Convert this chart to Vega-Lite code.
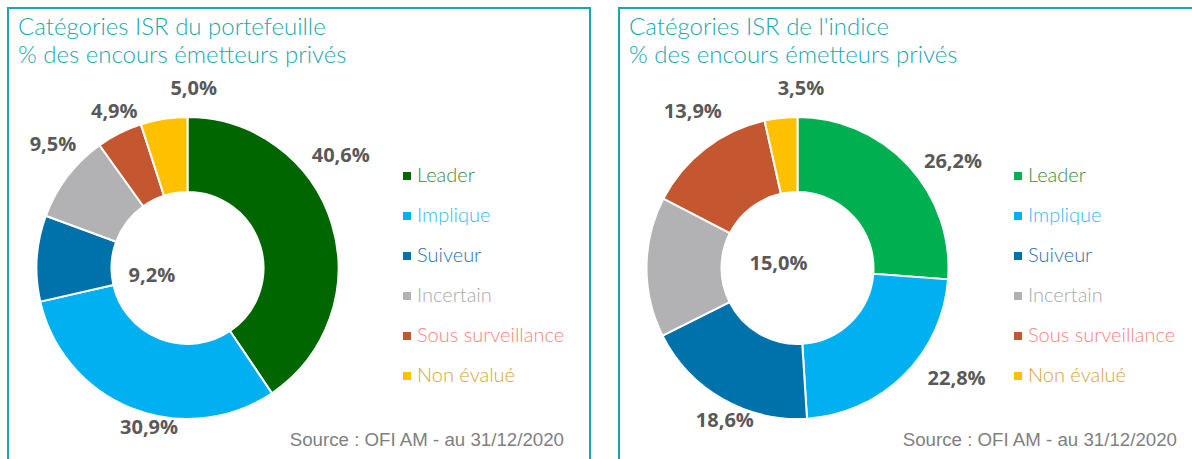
{
  "$schema": "https://vega.github.io/schema/vega-lite/v6.json",
  "padding": {"left": 7, "top": 7, "right": 0, "bottom": 0},
  "background": "white",
  "spacing": 27,
  "config": {
    "view": {"stroke": "#17a8ae", "strokeWidth": 2},
    "locale": {"number": {"decimal": ",", "thousands": "\u00a0", "grouping": [3], "currency": ["", "\u00a0€"]}},
    "legend": {
      "orient": "none", "legendX": 389, "legendY": 158, "title": null,
      "symbolType": "square", "symbolSize": 64, "symbolStrokeWidth": 0, "symbolOpacity": 1,
      "labelFont": "Lato", "labelFontSize": 20, "labelFontWeight": 300, "labelOffset": 0, "rowPadding": 20, "padding": 0,
      "labelLimit": 300
    },
    "title": {"anchor": "start", "frame": "group", "orient": "top", "offset": -60, "baseline": "top", "dx": 10,
      "font": "Lato", "fontSize": 24, "fontWeight": 300, "color": "#18a9ad", "lineHeight": 28}
  },
  "datasets": {
    "portefeuille": [
      {"categorie": "Leader", "part": 0.406, "ordre": 1},
      {"categorie": "Implique", "part": 0.309, "ordre": 2},
      {"categorie": "Suiveur", "part": 0.092, "ordre": 3},
      {"categorie": "Incertain", "part": 0.095, "ordre": 4},
      {"categorie": "Sous surveillance", "part": 0.049, "ordre": 5},
      {"categorie": "Non évalué", "part": 0.05, "ordre": 6}
    ],
    "indice": [
      {"categorie": "Leader", "part": 0.262, "ordre": 1},
      {"categorie": "Implique", "part": 0.228, "ordre": 2},
      {"categorie": "Suiveur", "part": 0.186, "ordre": 3},
      {"categorie": "Incertain", "part": 0.15, "ordre": 4},
      {"categorie": "Sous surveillance", "part": 0.139, "ordre": 5},
      {"categorie": "Non évalué", "part": 0.035, "ordre": 6}
    ]
  },
  "hconcat": [
    {
      "width": 582, "height": 470,
      "view": {"stroke": "#17a8ae", "strokeWidth": 2},
      "title": {"text": ["Catégories ISR du portefeuille", "% des encours émetteurs privés"]},
      "layer": [
        {
          "data": {"name": "portefeuille"},
          "mark": {"type": "arc", "innerRadius": 76, "outerRadius": 151, "stroke": "white", "strokeWidth": 2, "x": 179.5, "y": 260},
          "encoding": {
            "theta": {"field": "part", "type": "quantitative", "stack": true},
            "order": {"field": "ordre", "type": "quantitative"},
            "color": {
              "field": "categorie", "type": "nominal",
              "scale": {"domain": ["Leader", "Implique", "Suiveur", "Incertain", "Sous surveillance", "Non évalué"],
                        "range": ["#006600", "#00b0f0", "#0072ab", "#b2b2b4", "#c4572f", "#ffc000"]},
              "legend": {"labelColor": {"expr": "{'Leader':'#3a8a3a','Implique':'#33bbf0','Suiveur':'#2d72a6','Incertain':'#a9a9a9','Sous surveillance':'#f2877b','Non évalué':'#d6a43c'}[datum.label]"}}
            }
          }
        },
        {
          "data": {"name": "portefeuille"},
          "mark": {"type": "text", "radius": 178, "x": 179.5, "y": 260, "font": "Open Sans", "fontWeight": "bold", "fontSize": 20, "fill": "#595959",
            "dx": {"expr": "{'Leader':-17,'Implique':27,'Suiveur':142,'Incertain':7,'Sous surveillance':7,'Non évalué':34}[datum.categorie]"},
            "dy": {"expr": "{'Leader':-60,'Implique':-6,'Suiveur':19,'Incertain':-15,'Sous surveillance':3,'Non évalué':-3}[datum.categorie]"}},
          "encoding": {
            "theta": {"field": "part", "type": "quantitative", "stack": true},
            "order": {"field": "ordre", "type": "quantitative"},
            "detail": {"field": "categorie", "type": "nominal"},
            "text": {"field": "part", "type": "quantitative", "format": ".1%"}
          }
        },
        {
          "data": {"values": [{"source": "Source : OFI AM - au 31/12/2020"}]},
          "mark": {"type": "text", "align": "right", "baseline": "alphabetic", "x": 556, "y": 438, "font": "Liberation Sans", "fontSize": 18.7, "fill": "#7f7f7f"},
          "encoding": {"text": {"field": "source", "type": "nominal"}}
        }
      ]
    },
    {
      "width": 590, "height": 470,
      "view": {"stroke": "#17a8ae", "strokeWidth": 2},
      "title": {"text": ["Catégories ISR de l'indice", "% des encours émetteurs privés"]},
      "layer": [
        {
          "data": {"name": "indice"},
          "mark": {"type": "arc", "innerRadius": 76, "outerRadius": 151, "stroke": "white", "strokeWidth": 2, "x": 178.5, "y": 260},
          "encoding": {
            "theta": {"field": "part", "type": "quantitative", "stack": true},
            "order": {"field": "ordre", "type": "quantitative"},
            "color": {
              "field": "categorie", "type": "nominal",
              "scale": {"domain": ["Leader", "Implique", "Suiveur", "Incertain", "Sous surveillance", "Non évalué"],
                        "range": ["#00b050", "#00b0f0", "#0072ab", "#b2b2b4", "#c4572f", "#ffc000"]},
              "legend": {"labelColor": {"expr": "{'Leader':'#3a8a3a','Implique':'#33bbf0','Suiveur':'#2d72a6','Incertain':'#a9a9a9','Sous surveillance':'#f2877b','Non évalué':'#d6a43c'}[datum.label]"}}
            }
          }
        },
        {
          "data": {"name": "indice"},
          "mark": {"type": "text", "radius": 178, "x": 178.5, "y": 260, "font": "Open Sans", "fontWeight": "bold", "fontSize": 20, "fill": "#595959",
            "dx": {"expr": "{'Leader':25,'Implique':34,'Suiveur':16,'Incertain':159,'Sous surveillance':4,'Non évalué':23}[datum.categorie]"},
            "dy": {"expr": "{'Leader':15,'Implique':-16,'Suiveur':-1,'Incertain':-3,'Sous surveillance':-15,'Non évalué':-2}[datum.categorie]"}},
          "encoding": {
            "theta": {"field": "part", "type": "quantitative", "stack": true},
            "order": {"field": "ordre", "type": "quantitative"},
            "detail": {"field": "categorie", "type": "nominal"},
            "text": {"field": "part", "type": "quantitative", "format": ".1%"}
          }
        },
        {
          "data": {"values": [{"source": "Source : OFI AM - au 31/12/2020"}]},
          "mark": {"type": "text", "align": "right", "baseline": "alphabetic", "x": 558, "y": 438, "font": "Liberation Sans", "fontSize": 18.7, "fill": "#7f7f7f"},
          "encoding": {"text": {"field": "source", "type": "nominal"}}
        }
      ]
    }
  ],
  "resolve": {"scale": {"color": "independent", "theta": "independent"}, "legend": {"color": "independent"}}
}
